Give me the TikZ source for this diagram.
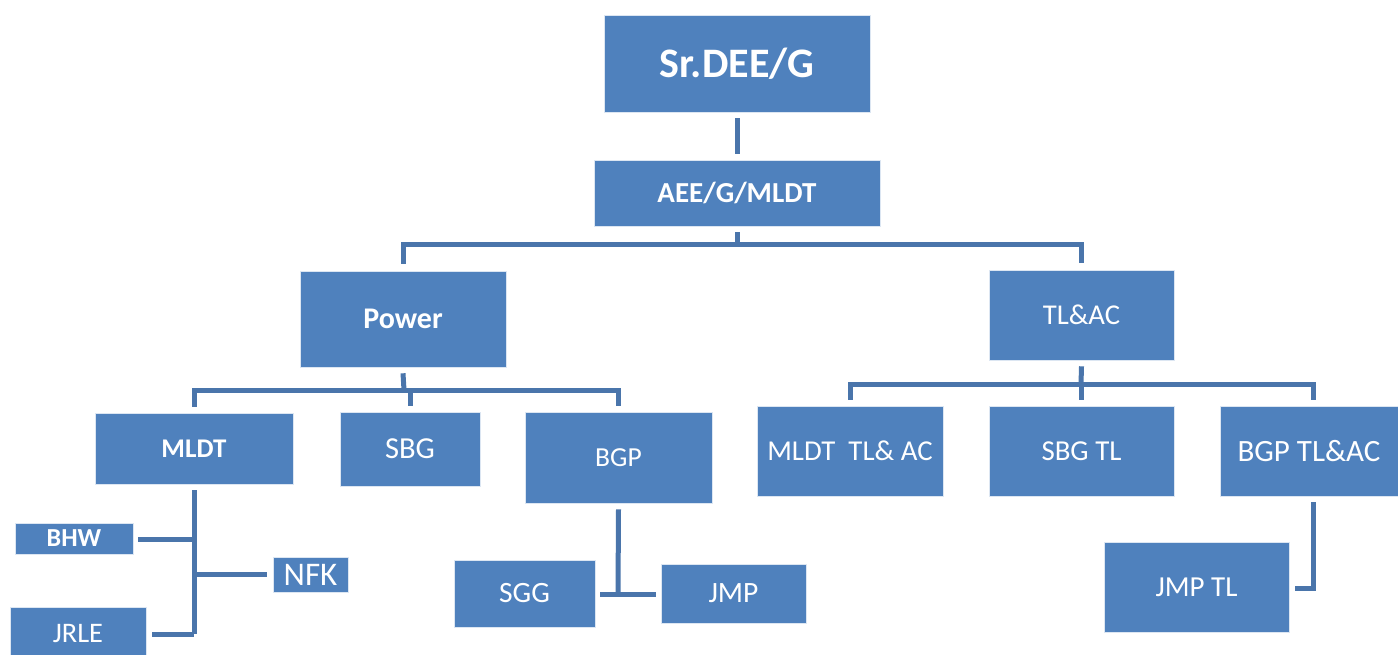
\documentclass[tikz,border=0pt]{standalone}
\usepackage{fontspec}
\setmainfont{Carlito}
\definecolor{boxblue}{HTML}{4F81BD}
\definecolor{lineblue}{HTML}{4A75AB}
\begin{document}
\begin{tikzpicture}[x=1pt,y=1pt,
  box/.style={rectangle, fill=boxblue, draw=white!80!boxblue, line width=0.6pt, text=white, inner sep=0pt, align=center},
  conn/.style={draw=lineblue, line width=5pt}]
\useasboundingbox (0,0) rectangle (1398,-655);
% boxes
\node[box, minimum width=266, minimum height=97, font=\fontsize{42}{46}\selectfont\bfseries] (top) at (737,-63.5) {Sr.DEE/G};
\node[box, minimum width=286, minimum height=66, font=\fontsize{29}{32}\selectfont\bfseries] (aee) at (737,-193) {AEE/G/MLDT};
\node[box, minimum width=206, minimum height=96, font=\fontsize{30}{33}\selectfont\bfseries] (power) at (403,-319) {Power};
\node[box, minimum width=185, minimum height=90, font=\fontsize{28.7}{31}\selectfont] (tlac) at (1081.5,-315) {TL\&AC};
\node[box, minimum width=198, minimum height=71, font=\fontsize{27}{30}\selectfont\bfseries] (mldt) at (194,-448.5) {MLDT};
\node[box, minimum width=140, minimum height=74, font=\fontsize{30.5}{33}\selectfont] (sbg) at (410,-449) {SBG};
\node[box, minimum width=187, minimum height=91, font=\fontsize{27.5}{30}\selectfont] (bgp) at (618.5,-457.5) {BGP};
\node[box, minimum width=186, minimum height=90, font=\fontsize{28.8}{31}\selectfont] (mldttl) at (850,-451) {MLDT\ \ TL\&\ AC};
\node[box, minimum width=185, minimum height=90, font=\fontsize{28.9}{31}\selectfont] (sbgtl) at (1081.5,-451) {SBG TL};
\node[box, minimum width=178, minimum height=90, font=\fontsize{31}{34}\selectfont] (bgptl) at (1309,-451) {BGP TL\&AC};
\node[box, minimum width=118, minimum height=31, font=\fontsize{26}{28}\selectfont\bfseries] (bhw) at (74,-538.5) {BHW};
\node[box, minimum width=75, minimum height=35, font=\fontsize{33}{35}\selectfont] (nfk) at (310.5,-574.5) {NFK};
\node[box, minimum width=136, minimum height=54, font=\fontsize{28.3}{31}\selectfont] (jrle) at (78,-634) {JRLE};
\node[box, minimum width=141, minimum height=67, font=\fontsize{29.5}{32}\selectfont] (sgg) at (524.5,-593.5) {SGG};
\node[box, minimum width=145, minimum height=59, font=\fontsize{29.5}{32}\selectfont] (jmp) at (733.5,-593.5) {JMP};
\node[box, minimum width=185, minimum height=90, font=\fontsize{29}{32}\selectfont] (jmptl) at (1196.5,-587) {JMP TL};
% bus coordinates
\coordinate (b1) at (737,-245);
\coordinate (b2) at (404,-390);
\coordinate (b3) at (1081,-384);
\coordinate (m1) at (194,-539);
\coordinate (m2) at (194,-574);
\coordinate (m3) at (194,-634);
\coordinate (g1) at (618,-594);
\coordinate (t1) at (1313,-588);
% connectors
\draw[conn] ([yshift=-6pt]top.south) -- ([yshift=6pt]aee.north);
\draw[conn] ([yshift=-6pt]aee.south) -- (b1);
\draw[conn] ([yshift=7pt]power.north) |- (b1) -| ([yshift=7pt]tlac.north);
\draw[conn] ([yshift=-6pt]power.south) -- (b2);
\draw[conn] ([yshift=6pt]mldt.north) |- (b2) -| ([yshift=6pt]bgp.north);
\draw[conn] ([yshift=6pt]sbg.north) -- (sbg.north |- b2);
\draw[conn] ([yshift=-6pt]tlac.south) -- (b3);
\draw[conn] ([yshift=6pt]mldttl.north) |- (b3) -| ([xshift=4pt,yshift=6pt]bgptl.north);
\draw[conn] ([yshift=6pt]sbgtl.north) -- (sbgtl.north |- b3);
\draw[conn] ([yshift=-6pt]mldt.south) -- (m3);
\draw[conn] ([xshift=5pt]bhw.east |- m1) -- (m1);
\draw[conn] (m2) -- ([xshift=-6pt]nfk.west |- m2);
\draw[conn] ([xshift=6pt]jrle.east |- m3) -- (m3);
\draw[conn] ([yshift=-6pt]bgp.south) -- (g1);
\draw[conn] ([xshift=5pt]sgg.east |- g1) -- ([xshift=-5pt]jmp.west |- g1);
\draw[conn] ([xshift=4pt,yshift=-6pt]bgptl.south) |- ([xshift=6pt]jmptl.east |- t1);
\end{tikzpicture}
\end{document}
